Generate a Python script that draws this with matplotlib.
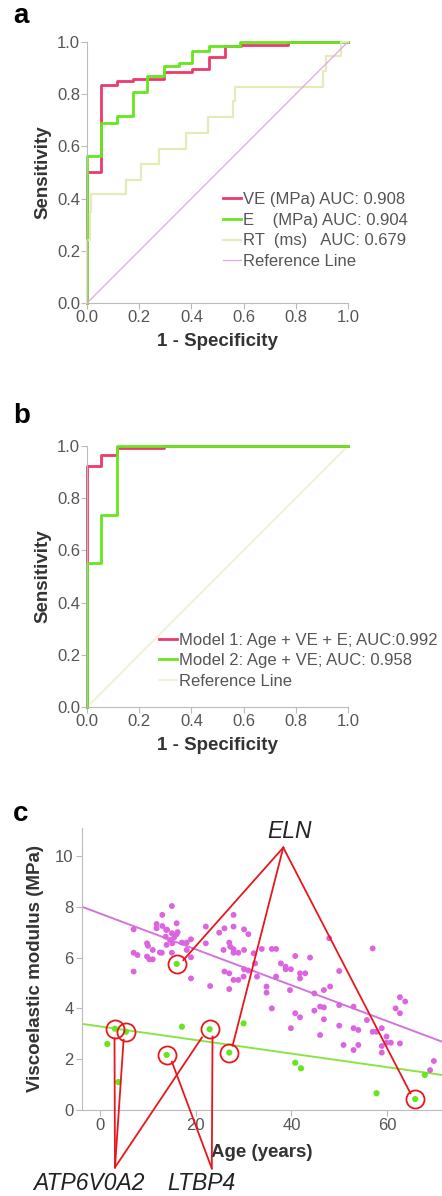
import numpy as np
import matplotlib
matplotlib.use('Agg')
import matplotlib.pyplot as plt

plt.rcParams['font.family'] = ['Liberation Sans', 'DejaVu Sans']

# panel a: ROC step vertices (x = 1 - specificity, y = sensitivity)
ve_x = [0, 0, 0.055, 0.116, 0.177, 0.295, 0.403, 0.467, 0.529, 0.589, 0.77, 1.0]
ve_y = [0, 0.50, 0.834, 0.851, 0.859, 0.885, 0.895, 0.944, 0.985, 0.99, 1.0, 1.0]
e_x = [0, 0, 0.055, 0.116, 0.177, 0.231, 0.295, 0.352, 0.403, 0.467, 0.586, 1.0]
e_y = [0, 0.562, 0.69, 0.716, 0.808, 0.870, 0.908, 0.921, 0.966, 0.985, 1.0, 1.0]
rt_x = [0, 0, 0.01, 0.015, 0.151, 0.206, 0.276, 0.378, 0.463, 0.558, 0.567, 0.905, 0.918, 0.975, 1.0]
rt_y = [0, 0.24, 0.35, 0.418, 0.471, 0.531, 0.59, 0.65, 0.712, 0.774, 0.829, 0.889, 0.946, 1.0, 1.0]
ref_x = [0, 1]
ref_y = [0, 1]
labels_a = ["VE (MPa) AUC: 0.908", "E    (MPa) AUC: 0.904", "RT  (ms)   AUC: 0.679", "Reference Line"]

# panel b
m1_x = [0, 0, 0.055, 0.114, 0.295, 1.0]
m1_y = [0, 0.923, 0.966, 0.991, 1.0, 1.0]
m2_x = [0, 0, 0.055, 0.114, 1.0]
m2_y = [0, 0.551, 0.736, 1.0, 1.0]
labels_b = ["Model 1: Age + VE + E; AUC:0.992", "Model 2: Age + VE; AUC: 0.958", "Reference Line"]

# panel c: controls (magenta) and patients (green)
ctrl_age = [7.0, 7.0, 7.8, 7.0, 9.8, 10.0, 9.8, 10.3, 11.0, 11.0, 11.8, 11.8, 13.0, 13.0, 13.8, 12.9,
            13.7, 13.9, 14.6, 15.0, 15.0, 15.1, 15.0, 16.0, 16.0, 17.1, 18.1, 19.0, 18.1, 19.0, 19.0,
            22.1, 22.1, 23.0, 24.9, 26.0, 27.9, 27.9, 30.1, 31.0, 27.0, 27.2, 25.8, 27.9, 28.9, 27.9,
            30.1, 32.1, 32.4, 33.8, 35.9, 36.8, 26.0, 27.0, 27.9, 28.9, 30.1, 31.0, 30.0, 27.0, 32.8,
            34.8, 34.8, 35.9, 36.8, 37.8, 38.8, 38.8, 39.9, 39.7, 40.8, 41.8, 41.8, 42.9, 43.9, 39.9,
            40.8, 41.8, 44.8, 44.8, 46.0, 46.8, 46.0, 46.8, 46.8, 48.1, 47.9, 50.0, 50.0, 50.0, 50.9,
            53.0, 53.0, 53.0, 54.0, 54.0, 55.8, 57.0, 57.0, 57.8, 58.9, 58.9, 58.9, 59.9, 59.9, 60.8,
            62.7, 61.8, 62.7, 63.8, 62.7, 69.0, 69.8, 15.5, 16.2, 14.0, 12.5]
ctrl_ve = [7.11, 6.19, 6.10, 5.45, 6.56, 6.46, 6.04, 5.93, 5.93, 6.30, 7.32, 7.15, 7.68, 7.24, 7.09, 6.19,
           6.82, 6.50, 6.69, 8.03, 6.96, 6.56, 6.19, 7.35, 6.92, 6.59, 6.59, 6.72, 6.30, 6.01, 5.18,
           7.22, 6.56, 4.88, 6.98, 7.15, 7.68, 7.22, 7.11, 6.92, 6.59, 6.43, 6.30, 6.33, 6.19, 6.19,
           6.30, 6.17, 5.77, 6.34, 6.34, 6.34, 5.45, 5.38, 5.12, 5.12, 5.54, 5.49, 5.25, 4.76, 5.25,
           4.86, 4.62, 4.00, 5.25, 5.77, 5.64, 5.54, 5.54, 4.72, 6.06, 5.38, 5.18, 5.38, 6.00, 3.22,
           3.81, 3.65, 4.59, 3.91, 4.07, 4.04, 2.95, 3.57, 4.72, 4.86, 6.76, 5.47, 4.13, 3.32, 2.56,
           4.07, 3.22, 2.36, 3.15, 2.56, 3.54, 6.36, 3.08, 3.08, 3.22, 2.52, 2.26, 2.89, 2.65, 2.65,
           2.62, 4.00, 4.44, 4.27, 3.81, 1.57, 1.93, 6.80, 7.00, 7.10, 6.20]
pat_age = [16.0, 1.5, 3.1, 5.4, 3.8, 17.1, 13.9, 22.9, 27.0, 30.0, 40.8, 42.0, 57.8, 65.9, 67.9]
pat_ve = [5.75, 2.60, 3.20, 3.08, 1.10, 3.28, 2.17, 3.18, 2.26, 3.41, 1.86, 1.64, 0.66, 0.43, 1.38]
ctrl_fit_x = [-3.8, 71.5]
ctrl_fit_y = [8.0, 2.69]
pat_fit_x = [-3.8, 71.5]
pat_fit_y = [3.39, 1.38]

# circled patients and gene callouts
circ_age = [16.0, 27.0, 65.9, 3.1, 5.4, 13.9, 22.9]
circ_ve = [5.75, 2.26, 0.43, 3.20, 3.08, 2.17, 3.18]
eln_apex = (38.3, 10.33)
eln_ends = [(17.4, 5.9), (27.7, 2.53), (64.9, 0.66)]
atp_apex = (3.1, -2.26)
atp_ends = [(3.0, 2.82), (4.9, 2.76), (21.3, 2.86)]
ltbp_apex = (23.35, -2.3)
ltbp_ends = [(15.0, 1.9), (23.5, 2.89)]

red = '#ec3a6a'
green = '#66e61e'
beige = '#e4eab8'
lilac = '#dcaade'
gray = '#555555'
spine = '#bbbbbb'
annot = '#e8171c'

fig = plt.figure(figsize=(4.42, 11.96), dpi=100)


def style_roc(ax):
    ax.set_xlim(0, 1)
    ax.set_ylim(0, 1)
    for s in ['top', 'right']:
        ax.spines[s].set_visible(False)
    for s in ['left', 'bottom']:
        ax.spines[s].set_color(spine)
    ax.set_xticks([0, 0.2, 0.4, 0.6, 0.8, 1.0])
    ax.set_yticks([0, 0.2, 0.4, 0.6, 0.8, 1.0])
    ax.set_xticklabels(['0.0', '0.2', '0.4', '0.6', '0.8', '1.0'])
    ax.set_yticklabels(['0.0', '0.2', '0.4', '0.6', '0.8', '1.0'])
    ax.tick_params(colors=spine, labelcolor=gray, labelsize=12, length=4, width=0.8, pad=1)
    ax.set_xlabel('1 - Specificity', fontsize=13.5, fontweight='bold', color='#333333', labelpad=6)
    ax.set_ylabel('Sensitivity', fontsize=13.5, fontweight='bold', color='#333333', labelpad=4)


# ---- a ----
ax1 = fig.add_axes([0.197, 0.7467, 0.590, 0.2182])
l1, = ax1.plot(ve_x, ve_y, drawstyle='steps-post', color=red, lw=2, clip_on=False)
l2, = ax1.plot(e_x, e_y, drawstyle='steps-post', color=green, lw=2, clip_on=False)
l3, = ax1.plot(rt_x, rt_y, drawstyle='steps-post', color=beige, lw=1.6, clip_on=False)
l4, = ax1.plot(ref_x, ref_y, color=lilac, lw=0.9)
style_roc(ax1)
ax1.legend([l1, l2, l3, l4], labels_a, loc='upper left', bbox_to_anchor=(0.521, 0.425),
           frameon=False, fontsize=12, labelcolor=gray, handlelength=1.1, handletextpad=0.12,
           labelspacing=0.34, borderpad=0, borderaxespad=0)
fig.text(0.03, 0.9865, 'a', fontsize=20, fontweight='bold', va='center')

# ---- b ----
ax2 = fig.add_axes([0.197, 0.4089, 0.590, 0.2182])
ax2.plot(ref_x, ref_y, color='#f0eed2', lw=1.2)
k1, = ax2.plot(m1_x, m1_y, drawstyle='steps-post', color=red, lw=2, clip_on=False)
k2, = ax2.plot(m2_x, m2_y, drawstyle='steps-post', color=green, lw=2, clip_on=False)
k3 = plt.Line2D([], [], color='#f0eed2', lw=1.2)
style_roc(ax2)
ax2.legend([k1, k2, k3], labels_b, loc='upper left', bbox_to_anchor=(0.276, 0.285),
           frameon=False, fontsize=12, labelcolor=gray, handlelength=1.1, handletextpad=0.12,
           labelspacing=0.34, borderpad=0, borderaxespad=0)
fig.text(0.03, 0.6525, 'b', fontsize=20, fontweight='bold', va='center')

# ---- c ----
ax3 = fig.add_axes([0.1855, 0.0719, 0.8145, 0.2358])
ax3.set_xlim(-3.8, 71.5)
ax3.set_ylim(0, 11.1)
ax3.scatter(ctrl_age, ctrl_ve, s=18, color='#dc64e0', edgecolors='none', zorder=2)
ax3.scatter(pat_age, pat_ve, s=20, color=green, edgecolors='none', zorder=2)
ax3.plot(ctrl_fit_x, ctrl_fit_y, color='#d374dc', lw=1.4, zorder=1)
ax3.plot(pat_fit_x, pat_fit_y, color='#8ae446', lw=1.4, zorder=1)
ax3.plot(circ_age, circ_ve, 'o', ms=13, mfc='none', mec=annot, mew=1.3, zorder=3, clip_on=False)
for apex, ends in [(eln_apex, eln_ends), (atp_apex, atp_ends), (ltbp_apex, ltbp_ends)]:
    for e in ends:
        ax3.plot([apex[0], e[0]], [apex[1], e[1]], color=annot, lw=1.3, clip_on=False, zorder=3)
ax3.text(39.7, 10.7, 'ELN', fontsize=16.5, style='italic', ha='center', va='baseline', color='#222222')
ax3.text(-2.45, -3.15, 'ATP6V0A2', fontsize=16.5, style='italic', ha='center', va='baseline',
         color='#222222')
ax3.text(21.26, -3.15, 'LTBP4', fontsize=16.5, style='italic', ha='center', va='baseline',
         color='#222222')
for s in ['top', 'right']:
    ax3.spines[s].set_visible(False)
for s in ['left', 'bottom']:
    ax3.spines[s].set_color(spine)
ax3.set_xticks([0, 20, 40, 60])
ax3.set_yticks([0, 2, 4, 6, 8, 10])
ax3.tick_params(colors=spine, labelcolor=gray, labelsize=12, length=4, width=0.8, pad=2)
ax3.set_xlabel('Age (years)', fontsize=13.5, fontweight='bold', color='#333333', labelpad=8)
ax3.set_ylabel('Viscoelastic modulus (MPa)', fontsize=13.5, fontweight='bold', color='#333333',
               labelpad=8)
fig.text(0.03, 0.319, 'c', fontsize=20, fontweight='bold', va='center')

fig.savefig('out.png', dpi=100, facecolor='white')
